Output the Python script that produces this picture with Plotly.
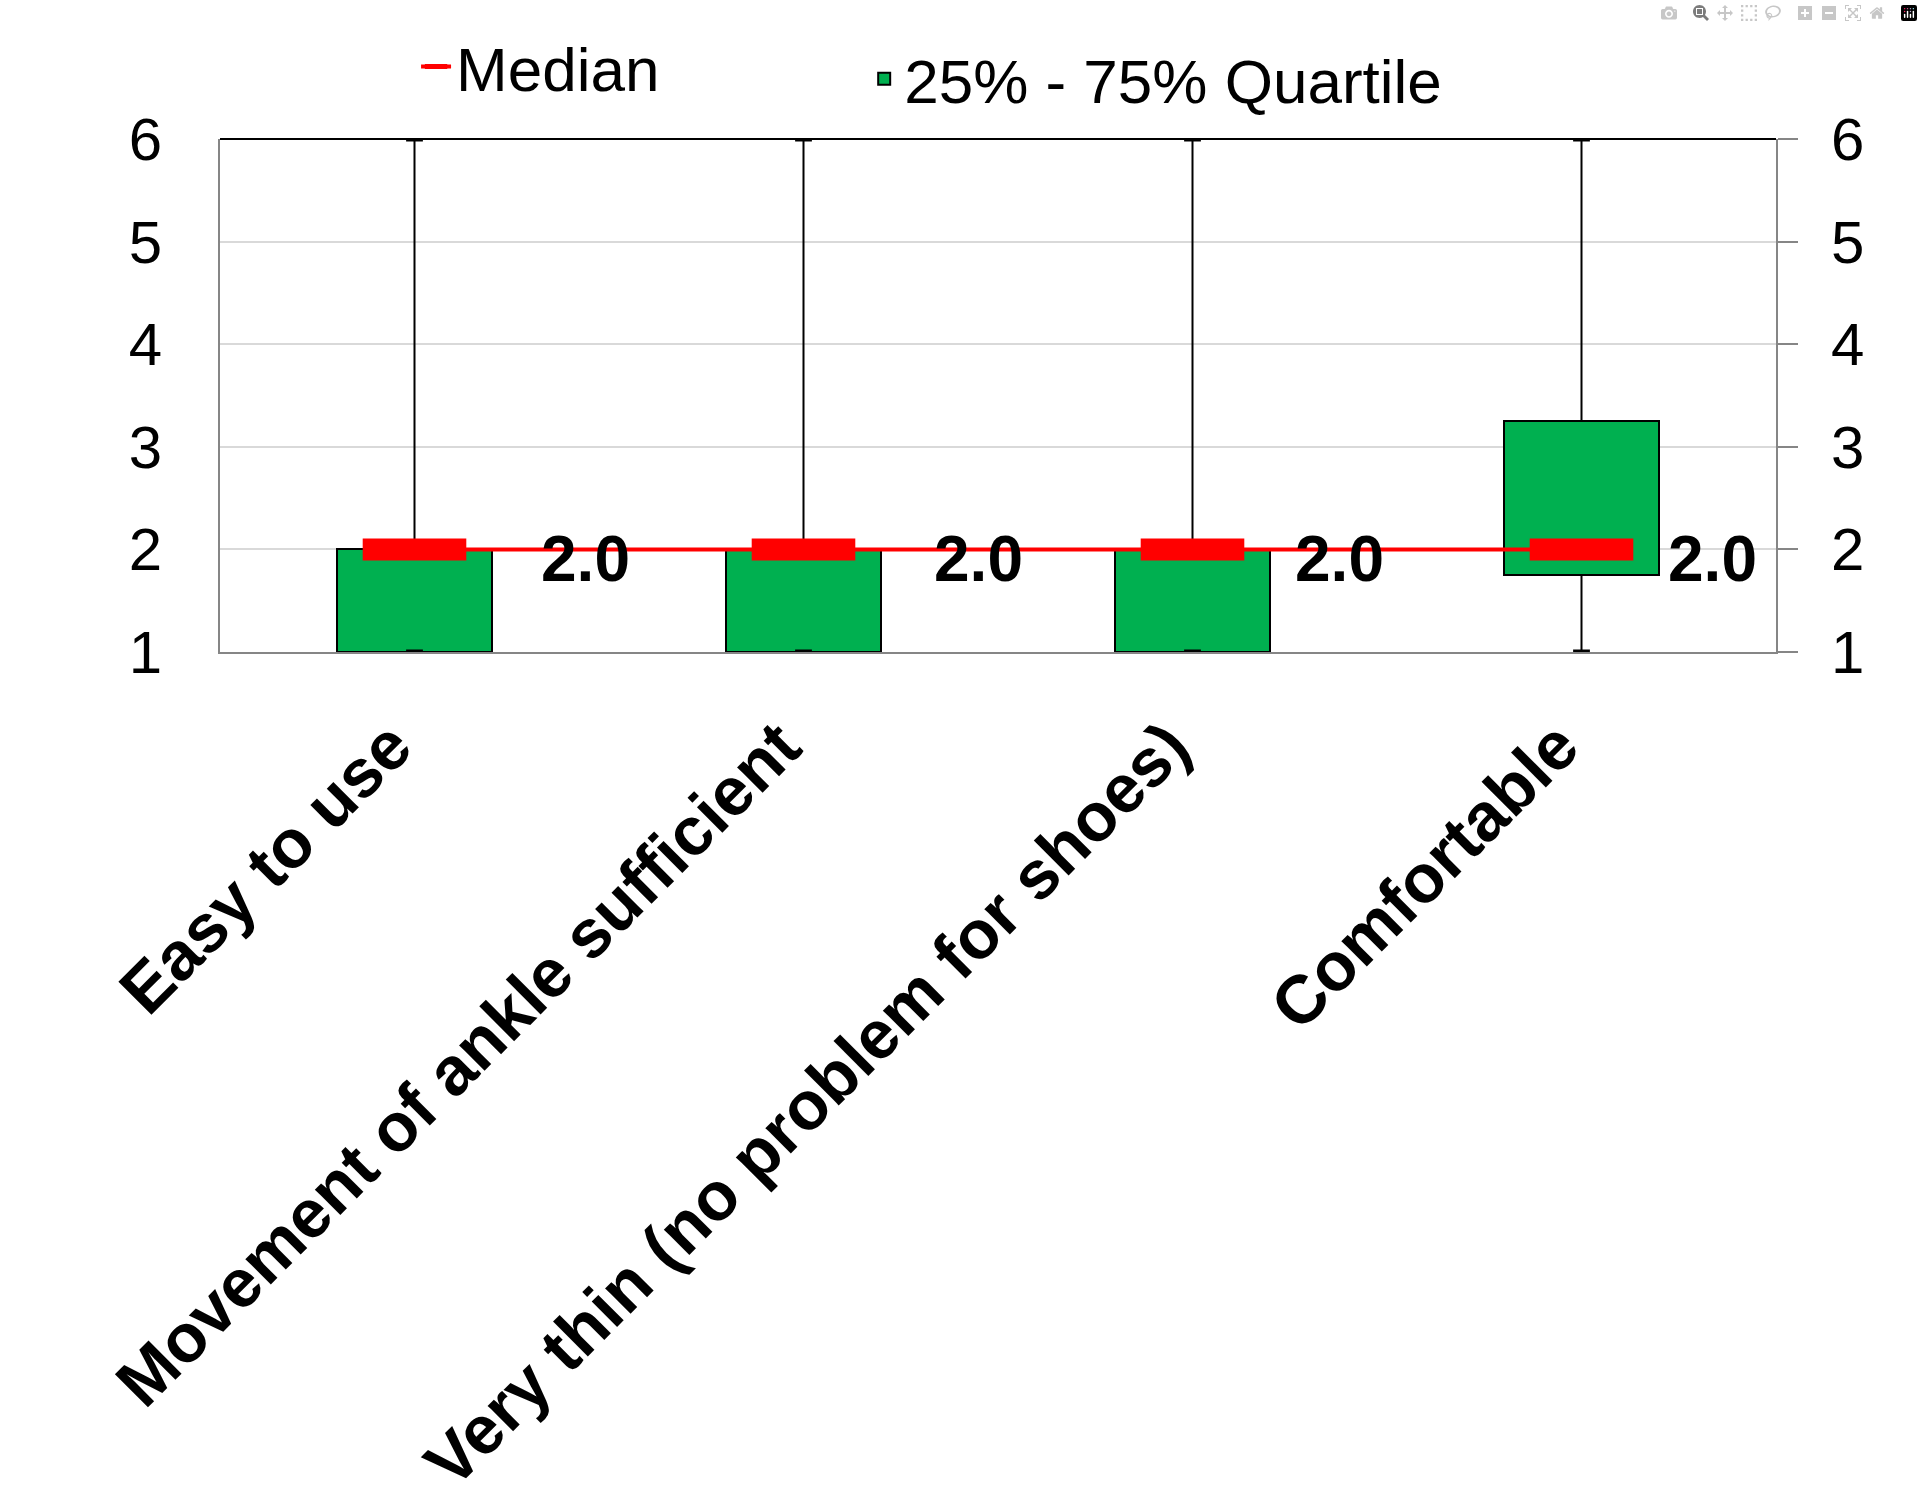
import plotly.graph_objects as go

# ---- data ----
categories = ["Easy to use", "Movement of ankle sufficient",
              "Very thin (no problem for shoes)", "Comfortable"]
q1 = [1, 1, 1, 1.75]
medians = [2.0, 2.0, 2.0, 2.0]
q3 = [2, 2, 2, 3.25]
mins = [1, 1, 1, 1]
maxs = [6, 6, 6, 6]
y_ticks = [1, 2, 3, 4, 5, 6]

# ---- style ----
FONT = "Liberation Sans, Arial, sans-serif"
GREEN = "#00B050"
RED = "#FF0000"
label_xshift = [124, 128, 100, 84]

fig = go.Figure()

# whiskers (outside the box)
wx, wy = [], []
for c, lo, a, b, hi in zip(categories, mins, q1, q3, maxs):
    wx += [c, c, None, c, c, None]
    wy += [b, hi, None, a, lo, None]
fig.add_trace(go.Scatter(x=wx, y=wy, mode="lines", line=dict(color="black", width=2),
                         showlegend=False, hoverinfo="skip"))

# boxes
fig.add_trace(go.Bar(x=categories, y=[b - a for a, b in zip(q1, q3)], base=q1, width=0.4,
                     marker=dict(color=GREEN, line=dict(color="black", width=2)),
                     name="25% - 75% Quartile", legend="legend2"))

# medians
fig.add_trace(go.Scatter(x=categories, y=medians, mode="lines+markers",
                         line=dict(color=RED, width=4),
                         marker=dict(symbol="line-ew", size=74, color=RED,
                                     line=dict(color=RED, width=22)),
                         name="Median", legend="legend"))

# whisker caps (drawn on the overlaying right axis, on top)
fig.add_trace(go.Scatter(x=categories + categories, y=mins + maxs, mode="markers",
                         yaxis="y2",
                         marker=dict(symbol="line-ew", size=12, color="black",
                                     line=dict(color="black", width=5)),
                         showlegend=False, hoverinfo="skip"))

annotations = []
for c, m, xs in zip(categories, medians, label_xshift):
    annotations.append(dict(x=c, y=m, xref="x", yref="y", text=f"<b>{m:.1f}</b>",
                            showarrow=False, xanchor="left", yanchor="middle",
                            xshift=xs, yshift=-10,
                            font=dict(family=FONT, size=64, color="black")))

fig.update_layout(
    width=1923, height=1508,
    margin=dict(l=220, r=147, t=139, b=856),
    paper_bgcolor="white", plot_bgcolor="white",
    font=dict(family=FONT, color="black"),
    bargap=0,
    annotations=annotations,
    shapes=[dict(type="line", xref="paper", yref="paper", x0=0, x1=1, y0=1, y1=1,
                 line=dict(color="black", width=2), layer="below")],
    xaxis=dict(type="category", range=[-0.5, 3.5], tickangle=-45,
               tickvals=categories, ticktext=[c + "\u00a0\u2009" for c in categories],
               tickfont=dict(family=FONT, size=68, color="black", weight="bold"),
               showline=True, linecolor="#868686", linewidth=2, ticks="",
               showgrid=False, ticklabelstandoff=2, automargin=False),
    yaxis=dict(range=[1, 6], tickvals=y_ticks, ticks="", showline=True,
               linecolor="#868686", linewidth=2, gridcolor="#D9D9D9", gridwidth=2,
               tickfont=dict(family=FONT, size=60, color="black"),
               ticklabelstandoff=44, zeroline=False, automargin=False),
    yaxis2=dict(range=[1, 6], tickvals=y_ticks, overlaying="y", side="right",
                matches="y",
                ticks="outside", ticklen=20, tickcolor="#868686", tickwidth=2,
                showline=True, linecolor="#868686", linewidth=2, showgrid=False,
                tickfont=dict(family=FONT, size=60, color="black"),
                ticklabelstandoff=21, zeroline=False, automargin=False),
    legend=dict(x=0.126, y=1.141, xanchor="left", yanchor="middle",
                orientation="h", bgcolor="rgba(0,0,0,0)",
                font=dict(family=FONT, size=62, color="black")),
    legend2=dict(x=0.414, y=1.117, xanchor="left", yanchor="middle",
                 orientation="h", bgcolor="rgba(0,0,0,0)",
                 font=dict(family=FONT, size=62, color="black")),
)

fig.write_html("out.html", post_script="document.body.style.margin='0';")
